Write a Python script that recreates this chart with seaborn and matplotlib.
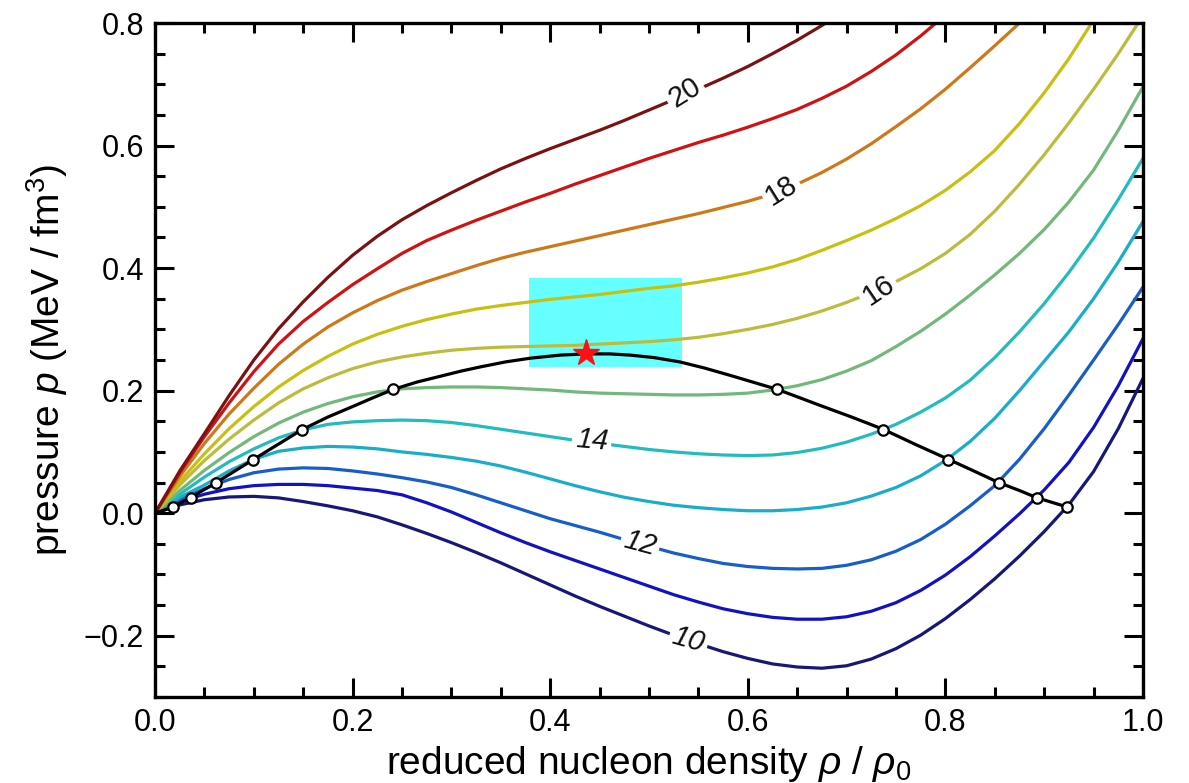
import matplotlib
matplotlib.use("Agg")
import matplotlib.pyplot as plt
from matplotlib.patches import Rectangle
from matplotlib.ticker import MultipleLocator, FuncFormatter
import pandas as pd
import seaborn as sns

# reduced density grid shared by all isotherms
rho = [0.0, 0.025, 0.05, 0.075, 0.1, 0.125, 0.15, 0.175, 0.2, 0.225,
       0.25, 0.275, 0.3, 0.325, 0.35, 0.375, 0.4, 0.425, 0.45, 0.475,
       0.5, 0.525, 0.55, 0.575, 0.6, 0.625, 0.65, 0.675, 0.7, 0.725,
       0.75, 0.775, 0.8, 0.825, 0.85, 0.875, 0.9, 0.925, 0.95, 0.975, 1.0]

# isotherm pressures (MeV/fm^3), one list per temperature (MeV)
p_T10 = [0, 0.0135, 0.022, 0.0265, 0.0275, 0.025, 0.019, 0.012, 0.004, -0.006,
         -0.019, -0.033, -0.048, -0.064, -0.081, -0.099, -0.117, -0.135, -0.152, -0.168,
         -0.184, -0.199, -0.213, -0.226, -0.237, -0.246, -0.251, -0.253, -0.249, -0.238,
         -0.221, -0.199, -0.172, -0.141, -0.107, -0.070, -0.030, 0.014, 0.068, 0.138, 0.220]
p_T11 = [0, 0.019, 0.031, 0.040, 0.045, 0.047, 0.047, 0.045, 0.041, 0.037,
         0.030, 0.017, 0.002, -0.015, -0.032, -0.048, -0.063, -0.077, -0.091, -0.105,
         -0.119, -0.133, -0.145, -0.156, -0.164, -0.170, -0.173, -0.173, -0.169, -0.160,
         -0.146, -0.126, -0.101, -0.071, -0.037, -0.001, 0.038, 0.083, 0.140, 0.208, 0.285]
p_T12 = [0, 0.022, 0.040, 0.055, 0.066, 0.072, 0.074, 0.073, 0.069, 0.064,
         0.058, 0.051, 0.042, 0.030, 0.017, 0.004, -0.009, -0.020, -0.031, -0.043,
         -0.054, -0.065, -0.074, -0.082, -0.087, -0.090, -0.091, -0.090, -0.085, -0.076,
         -0.062, -0.043, -0.018, 0.012, 0.045, 0.088, 0.138, 0.193, 0.250, 0.308, 0.369]
p_T13 = [0, 0.026, 0.046, 0.069, 0.088, 0.101, 0.1065, 0.109, 0.108, 0.105,
         0.100, 0.096, 0.091, 0.085, 0.077, 0.067, 0.056, 0.045, 0.035, 0.026,
         0.019, 0.013, 0.009, 0.006, 0.004, 0.004, 0.006, 0.010, 0.017, 0.028,
         0.042, 0.061, 0.086, 0.117, 0.155, 0.200, 0.248, 0.296, 0.350, 0.410, 0.476]
p_T14 = [0, 0.031, 0.059, 0.084, 0.105, 0.123, 0.136, 0.145, 0.149, 0.151,
         0.152, 0.151, 0.148, 0.143, 0.137, 0.131, 0.125, 0.119, 0.114, 0.109,
         0.104, 0.100, 0.097, 0.095, 0.094, 0.095, 0.099, 0.106, 0.116, 0.129,
         0.145, 0.165, 0.188, 0.217, 0.254, 0.296, 0.342, 0.393, 0.449, 0.512, 0.579]
p_T15 = [0, 0.037, 0.070, 0.099, 0.125, 0.147, 0.165, 0.179, 0.190, 0.198,
         0.203, 0.205, 0.206, 0.206, 0.205, 0.203, 0.201, 0.198, 0.196, 0.195,
         0.194, 0.193, 0.193, 0.194, 0.196, 0.201, 0.208, 0.218, 0.232, 0.249,
         0.272, 0.297, 0.325, 0.356, 0.389, 0.424, 0.463, 0.508, 0.560, 0.625, 0.696]
p_T16 = [0, 0.046, 0.086, 0.121, 0.152, 0.180, 0.203, 0.221, 0.236, 0.247,
         0.255, 0.261, 0.266, 0.269, 0.271, 0.272, 0.273, 0.274, 0.276, 0.278,
         0.280, 0.283, 0.287, 0.293, 0.300, 0.308, 0.318, 0.330, 0.344, 0.360,
         0.378, 0.399, 0.424, 0.455, 0.493, 0.537, 0.585, 0.637, 0.692, 0.750, 0.812]
p_T17 = [0, 0.052, 0.097, 0.138, 0.174, 0.206, 0.233, 0.256, 0.276, 0.292,
         0.305, 0.316, 0.325, 0.333, 0.339, 0.344, 0.349, 0.353, 0.357, 0.362,
         0.367, 0.371, 0.377, 0.384, 0.392, 0.402, 0.414, 0.429, 0.445, 0.462,
         0.481, 0.502, 0.527, 0.557, 0.592, 0.636, 0.686, 0.742, 0.805, 0.875, 0.950]
p_T18 = [0, 0.060, 0.114, 0.162, 0.204, 0.243, 0.276, 0.304, 0.327, 0.347,
         0.364, 0.378, 0.391, 0.404, 0.416, 0.426, 0.435, 0.444, 0.453, 0.462,
         0.471, 0.480, 0.489, 0.499, 0.509, 0.521, 0.537, 0.556, 0.578, 0.603,
         0.631, 0.660, 0.692, 0.727, 0.763, 0.800, 0.840, 0.880, 0.920, 0.960, 1.000]
p_T19 = [0, 0.066, 0.125, 0.180, 0.231, 0.276, 0.313, 0.344, 0.373, 0.399,
         0.424, 0.445, 0.462, 0.478, 0.493, 0.508, 0.522, 0.537, 0.551, 0.565,
         0.579, 0.592, 0.605, 0.617, 0.630, 0.644, 0.659, 0.677, 0.697, 0.721,
         0.748, 0.779, 0.813, 0.850, 0.890, 0.930, 0.970, 1.010, 1.050, 1.090, 1.130]
p_T20 = [0, 0.069, 0.130, 0.192, 0.250, 0.301, 0.345, 0.385, 0.421, 0.452,
         0.479, 0.502, 0.523, 0.543, 0.562, 0.579, 0.595, 0.610, 0.625, 0.641,
         0.658, 0.675, 0.692, 0.710, 0.729, 0.750, 0.772, 0.796, 0.822, 0.850,
         0.880, 0.912, 0.946, 0.982, 1.020, 1.060, 1.100, 1.140, 1.180, 1.220, 1.260]

temperatures = [10, 11, 12, 13, 14, 15, 16, 17, 18, 19, 20]
isotherms = [p_T10, p_T11, p_T12, p_T13, p_T14, p_T15, p_T16, p_T17, p_T18, p_T19, p_T20]

# coexistence (binodal) line
rho_coex = [0.0, 0.018, 0.036, 0.062, 0.0995, 0.149, 0.175, 0.197, 0.22, 0.241,
            0.265, 0.29, 0.31, 0.33, 0.355, 0.38, 0.41, 0.436, 0.46, 0.481,
            0.505, 0.531, 0.556, 0.582, 0.605, 0.630, 0.650, 0.673, 0.705, 0.737,
            0.770, 0.803, 0.830, 0.854, 0.875, 0.893, 0.923]
p_coex = [0.0, 0.0103, 0.0256, 0.0501, 0.0876, 0.1366, 0.157, 0.172, 0.188, 0.202,
          0.214, 0.224, 0.232, 0.239, 0.247, 0.253, 0.258, 0.260, 0.260, 0.258,
          0.254, 0.247, 0.237, 0.225, 0.214, 0.202, 0.190, 0.176, 0.157, 0.137,
          0.112, 0.088, 0.068, 0.050, 0.037, 0.025, 0.0103]

# coexisting gas / liquid densities for T = 10..15
p_sat = [0.0103, 0.0256, 0.0501, 0.0876, 0.1366, 0.202]
rho_gas = [0.018, 0.036, 0.062, 0.0995, 0.149, 0.241]
rho_liquid = [0.923, 0.893, 0.854, 0.803, 0.737, 0.630]

# critical point and its uncertainty region
rho_crit, p_crit = 0.436, 0.261
rho_crit_range = [0.379, 0.533]
p_crit_range = [0.238, 0.384]

# labelled isotherms
label_T = [20, 18, 16, 14, 12, 10]
label_rho = [0.536, 0.634, 0.732, 0.442, 0.491, 0.540]
label_p = [0.687, 0.527, 0.364, 0.119, -0.050, -0.207]

palette = {
    10: "#17177a",
    11: "#1212c4",
    12: "#175ec8",
    13: "#19adcb",
    14: "#22bcc0",
    15: "#72b87a",
    16: "#bcbc3c",
    17: "#c8c010",
    18: "#d07818",
    19: "#d01212",
    20: "#7a1212",
}

df = pd.DataFrame(
    [(T, r, p) for T, ps in zip(temperatures, isotherms) for r, p in zip(rho, ps)],
    columns=["T", "rho", "p"],
)

sns.set_theme(style="ticks")
plt.rcParams["font.family"] = ["Liberation Sans", "DejaVu Sans"]
plt.rcParams["mathtext.fontset"] = "custom"
plt.rcParams["mathtext.rm"] = "Liberation Sans"
plt.rcParams["mathtext.it"] = "Liberation Sans:italic"
for key in ("text.color", "axes.labelcolor", "xtick.color", "ytick.color", "axes.edgecolor"):
    plt.rcParams[key] = "black"

fig = plt.figure(figsize=(11.89, 7.83), dpi=100)
ax = fig.add_axes([0.1304, 0.1098, 0.8309, 0.8608])

ax.add_patch(Rectangle((rho_crit_range[0], p_crit_range[0]),
                       rho_crit_range[1] - rho_crit_range[0],
                       p_crit_range[1] - p_crit_range[0],
                       facecolor="#66ffff", edgecolor="none", zorder=1))

sns.lineplot(data=df, x="rho", y="p", hue="T", palette=palette, legend=False,
             linewidth=2.3, sort=False, estimator=None, ax=ax, zorder=2)

ax.plot(rho_coex, p_coex, color="black", linewidth=2.3, zorder=4)
for dens in (rho_gas, rho_liquid):
    ax.plot(dens, p_sat, linestyle="none", marker="o", markersize=7.5,
            markerfacecolor="white", markeredgecolor="black", markeredgewidth=1.6, zorder=5)
ax.plot([rho_crit], [p_crit], marker="*", markersize=20, color="#ff1010",
        markeredgecolor="#ff1010", linestyle="none", zorder=6)

rotations = {20: 32, 18: 32, 16: 34, 14: -5, 12: -15, 10: -16}
for T, r, p in zip(label_T, label_rho, label_p):
    ax.text(r, p, str(T), fontsize=21, rotation=rotations[T],
            style="italic" if T <= 14 else "normal",
            ha="center", va="center", color="#111111", zorder=3,
            bbox=dict(boxstyle="square,pad=0.12", facecolor="white", edgecolor="none"))

ax.set_xlim(0.0, 1.0)
ax.set_ylim(-0.3, 0.8)
ax.xaxis.set_major_locator(MultipleLocator(0.2))
ax.xaxis.set_minor_locator(MultipleLocator(0.05))
ax.yaxis.set_major_locator(MultipleLocator(0.2))
ax.yaxis.set_minor_locator(MultipleLocator(0.05))
fmt = FuncFormatter(lambda v, _: f"{v:.1f}".replace("-", "\u2212"))
ax.xaxis.set_major_formatter(fmt)
ax.yaxis.set_major_formatter(fmt)
ax.tick_params(which="both", direction="in", top=True, right=True, width=2.2, color="black")
ax.tick_params(which="major", length=14, labelsize=22, pad=8)
ax.tick_params(which="minor", length=7.5)
for s in ax.spines.values():
    s.set_linewidth(2.4)
    s.set_color("black")

ax.set_xlabel(r"reduced nucleon density $\rho$ / $\rho_0$", fontsize=28, labelpad=4)
ax.set_ylabel(r"pressure $p$ (MeV / fm$^3$)", fontsize=28, labelpad=10)

fig.savefig("out.png", dpi=100, facecolor="white")
